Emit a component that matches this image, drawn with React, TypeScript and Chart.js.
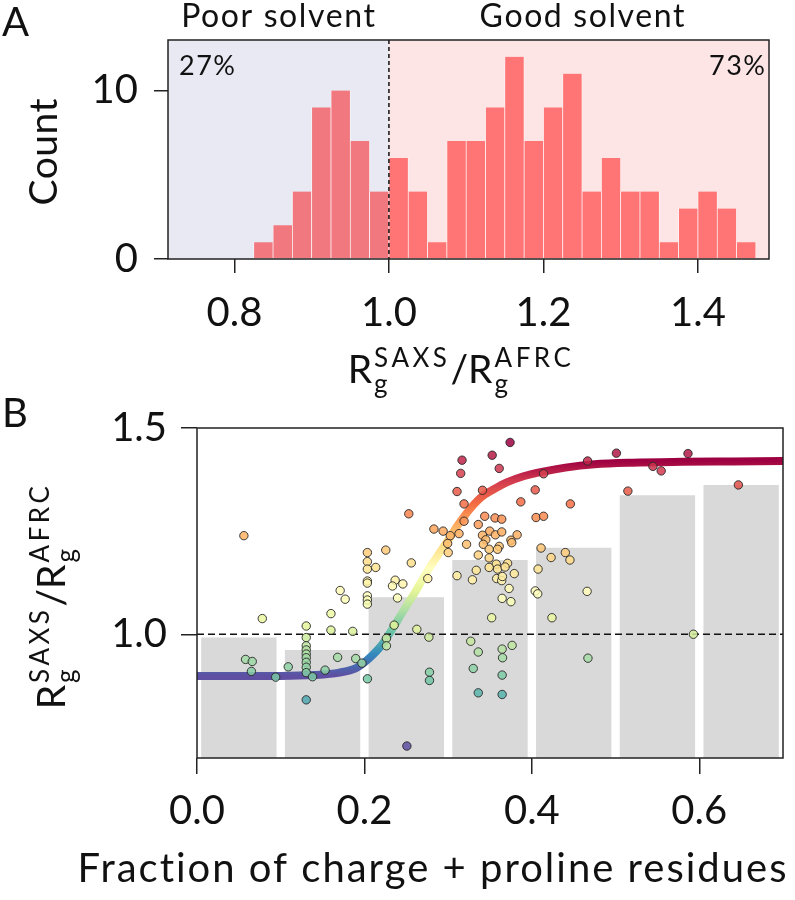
import React, { useEffect, useRef } from 'react';
import { Chart, registerables } from 'chart.js';

Chart.register(...registerables);

const FONT = 'Lato, "Open Sans", sans-serif';

// ---------- Panel A: histogram of Rg(SAXS)/Rg(AFRC) ----------
const histBinCenters = [
  0.8375, 0.8625, 0.8875, 0.9125, 0.9375, 0.9625, 0.9875,
  1.0125, 1.0375, 1.0625, 1.0875, 1.1125, 1.1375, 1.1625, 1.1875, 1.2125, 1.2375,
  1.2625, 1.2875, 1.3125, 1.3375, 1.3625, 1.3875, 1.4125, 1.4375, 1.4625,
];
const histCounts = [
  1, 2, 4, 9, 10, 7, 4,
  6, 4, 1, 7, 7, 9, 12, 7, 9, 11,
  4, 6, 4, 4, 1, 3, 4, 3, 1,
];
const histXTicks = [0.8, 1.0, 1.2, 1.4];
const histYTicks = [0, 10];
const solventBoundary = 1.0;
const poorLabel = 'Poor solvent';
const goodLabel = 'Good solvent';
const poorShare = '27%';
const goodShare = '73%';

// ---------- Panel B ----------
const binCenters = [0.05, 0.15, 0.25, 0.35, 0.45, 0.55, 0.65];
const binMeans = [0.992, 0.962, 1.09, 1.18, 1.21, 1.337, 1.362];

const fitX = [0, 0.05, 0.10, 0.14, 0.17, 0.19, 0.20, 0.21, 0.22, 0.23,
  0.24, 0.25, 0.26, 0.27, 0.28, 0.29, 0.30, 0.31, 0.32, 0.33,
  0.34, 0.355, 0.37, 0.39, 0.415, 0.44, 0.475, 0.52, 0.58, 0.64, 0.70];
const fitY = [0.899, 0.899, 0.899, 0.901, 0.907, 0.918, 0.932, 0.950, 0.972, 1.002,
  1.035, 1.068, 1.100, 1.135, 1.168, 1.198, 1.228, 1.260, 1.288, 1.313,
  1.333, 1.352, 1.368, 1.383, 1.395, 1.404, 1.412, 1.416, 1.418, 1.419, 1.420];

const pointX = [
  0.056, 0.078, 0.058, 0.066, 0.065, 0.094, 0.109,
  0.1305, 0.1305, 0.1305, 0.1305, 0.1305, 0.1305, 0.1305, 0.1305, 0.1305,
  0.138, 0.1305, 0.153, 0.160, 0.160, 0.168, 0.171, 0.177, 0.186, 0.1896, 0.197,
  0.2036, 0.253, 0.2255, 0.2035, 0.2035, 0.2035, 0.2135, 0.256, 0.2035, 0.2035,
  0.2367, 0.2335, 0.2459, 0.2757, 0.2035, 0.2035, 0.2035, 0.2395, 0.2355, 0.2626,
  0.277, 0.2263, 0.2263, 0.2777, 0.2777, 0.2507,
  0.374, 0.3166, 0.3526, 0.3150, 0.361, 0.3106, 0.341, 0.319, 0.3868, 0.319,
  0.3437, 0.356, 0.364, 0.283, 0.294, 0.3025, 0.313, 0.336, 0.3497, 0.3564,
  0.364, 0.341, 0.3824, 0.2994, 0.3001, 0.322, 0.345, 0.342, 0.375, 0.376,
  0.361, 0.359, 0.349, 0.336, 0.349, 0.3575, 0.371, 0.349, 0.359, 0.368,
  0.3336, 0.379, 0.3106, 0.329, 0.358, 0.364, 0.3648, 0.3728, 0.3645, 0.375,
  0.352, 0.327, 0.336, 0.3645, 0.365, 0.3764, 0.330, 0.3645, 0.336, 0.3645,
  0.414, 0.4666, 0.501, 0.5446, 0.5545, 0.5865, 0.6467, 0.5147, 0.404, 0.446, 0.405, 0.414,
  0.411, 0.423, 0.440, 0.4455, 0.4074, 0.404, 0.407, 0.466, 0.424, 0.593, 0.467,
];
const pointY = [
  1.239, 1.038, 0.939, 0.934, 0.910, 0.896, 0.921,
  1.020, 0.992, 0.972, 0.962, 0.952, 0.943, 0.932, 0.920, 0.907,
  0.897, 0.841, 0.913, 1.050, 1.010, 0.944, 1.106, 1.085, 1.007, 0.941, 0.930,
  0.892, 1.292, 1.204, 1.198, 1.176, 1.158, 1.162, 1.173, 1.129, 1.124,
  1.131, 1.117, 1.122, 1.135, 1.093, 1.083, 1.073, 1.088, 1.022, 1.012,
  0.993, 0.990, 0.972, 0.908, 0.888, 0.729,
  1.465, 1.422, 1.434, 1.390, 1.402, 1.346, 1.349, 1.316, 1.321, 1.274,
  1.286, 1.282, 1.279, 1.255, 1.250, 1.239, 1.244, 1.266, 1.250, 1.241,
  1.248, 1.240, 1.241, 1.220, 1.198, 1.218, 1.229, 1.218, 1.228, 1.222,
  1.213, 1.206, 1.206, 1.192, 1.185, 1.170, 1.172, 1.162, 1.158, 1.163,
  1.155, 1.147, 1.142, 1.132, 1.135, 1.130, 1.140, 1.111, 1.087, 1.079,
  1.040, 0.983, 0.957, 0.964, 0.943, 0.973, 0.917, 0.901, 0.858, 0.854,
  1.389, 1.420, 1.439, 1.407, 1.396, 1.438, 1.362, 1.347, 1.350, 1.316, 1.283, 1.286,
  1.209, 1.186, 1.198, 1.180, 1.158, 1.105, 1.098, 1.104, 1.040, 1.000, 0.942,
];
const bXTicks = [0, 0.2, 0.4, 0.6];
const bYTicks = [1.0, 1.5];
const referenceLevel = 1.0;
const bXTitle = 'Fraction of charge + proline residues';

// Spectral_r colormap
const SPECTRAL_R = ['#5e4fa2', '#3288bd', '#66c2a5', '#abdda4', '#e6f598', '#ffffbf',
  '#fee08b', '#fdae61', '#f46d43', '#d53e4f', '#9e0142'];

function hexToRgb(h: string) {
  const n = parseInt(h.slice(1), 16);
  return [(n >> 16) & 255, (n >> 8) & 255, n & 255];
}
function spectralR(t: number, alpha = 1) {
  const tt = Math.max(0, Math.min(1, t));
  const p = tt * 10;
  const i = Math.min(9, Math.floor(p));
  const f = p - i;
  const a = hexToRgb(SPECTRAL_R[i]);
  const b = hexToRgb(SPECTRAL_R[i + 1]);
  const c = a.map((v, k) => Math.round(v + (b[k] - v) * f));
  return `rgba(${c[0]},${c[1]},${c[2]},${alpha})`;
}

function spacedText(ctx: CanvasRenderingContext2D, text: string, x: number, y: number, font: string, align: CanvasTextAlign, spacing: number) {
  const c: any = ctx;
  ctx.save();
  ctx.font = font;
  c.letterSpacing = spacing + 'px';
  ctx.textAlign = 'left';
  const w = ctx.measureText(text).width - spacing;
  let x0 = x;
  if (align === 'center') x0 = x - w / 2;
  else if (align === 'right') x0 = x - w;
  ctx.fillText(text, x0, y);
  ctx.restore();
}

function drawRatioLabel(ctx: CanvasRenderingContext2D, cx: number, base: number, big: number, small: number, gap: number) {
  const c: any = ctx;
  ctx.save();
  ctx.textBaseline = 'alphabetic';
  ctx.textAlign = 'left';
  ctx.fillStyle = '#111';
  const fb = `${big}px ${FONT}`;
  const fs = `${small}px ${FONT}`;
  ctx.font = fb;
  const wR = ctx.measureText('R').width;
  const wSl = ctx.measureText('/').width;
  ctx.font = fs;
  c.letterSpacing = gap + 'px';
  const wSup1 = ctx.measureText('SAXS').width;
  const wSup2 = ctx.measureText('AFRC').width;
  c.letterSpacing = '0px';
  const wg = ctx.measureText('g').width;
  const b1 = Math.max(wSup1, wg);
  const b2 = Math.max(wSup2, wg);
  const total = wR + 2 + b1 + wSl + wR + 2 + b2;
  let x = cx - total / 2;
  const supDy = -big * 0.42;
  const subDy = big * 0.26;
  ctx.font = fb; ctx.fillText('R', x, base); x += wR + 2;
  ctx.font = fs; ctx.fillText('g', x, base + subDy);
  c.letterSpacing = gap + 'px'; ctx.fillText('SAXS', x, base + supDy); c.letterSpacing = '0px';
  x += b1;
  ctx.font = fb; ctx.fillText('/', x, base); x += wSl;
  ctx.fillText('R', x, base); x += wR + 2;
  ctx.font = fs; ctx.fillText('g', x, base + subDy);
  c.letterSpacing = gap + 'px'; ctx.fillText('AFRC', x, base + supDy); c.letterSpacing = '0px';
  ctx.restore();
}

function frame(chart: any) {
  const { ctx, chartArea: { left, right, top, bottom } } = chart;
  ctx.save();
  ctx.strokeStyle = '#222';
  ctx.lineWidth = 1.5;
  ctx.strokeRect(left, top, right - left, bottom - top);
  ctx.restore();
}

const panelAPlugin = {
  id: 'panelA',
  beforeDatasetsDraw(chart: any) {
    const { ctx, chartArea: { left, right, top, bottom }, scales: { x } } = chart;
    const xm = x.getPixelForValue(solventBoundary);
    ctx.save();
    ctx.fillStyle = '#e9e9f4';
    ctx.fillRect(left, top, xm - left, bottom - top);
    ctx.fillStyle = '#fde5e6';
    ctx.fillRect(xm, top, right - xm, bottom - top);
    ctx.restore();
  },
  afterDatasetsDraw(chart: any) {
    const { ctx, chartArea: { top, bottom }, scales: { x } } = chart;
    const xm = x.getPixelForValue(solventBoundary);
    ctx.save();
    ctx.strokeStyle = '#111';
    ctx.lineWidth = 1.5;
    ctx.setLineDash([4, 3]);
    ctx.beginPath();
    ctx.moveTo(xm, top);
    ctx.lineTo(xm, bottom);
    ctx.stroke();
    ctx.restore();
    frame(chart);
  },
  afterDraw(chart: any) {
    const { ctx } = chart;
    ctx.save();
    ctx.fillStyle = '#111';
    ctx.textBaseline = 'alphabetic';
    spacedText(ctx, 'A', 2, 36, `40px ${FONT}`, 'left', 0);
    spacedText(ctx, poorLabel, 278, 27, `32px ${FONT}`, 'center', 1.6);
    spacedText(ctx, goodLabel, 582, 27, `32px ${FONT}`, 'center', 1.6);
    spacedText(ctx, poorShare, 179, 75, `27px ${FONT}`, 'left', 1.5);
    spacedText(ctx, goodShare, 765, 75, `27px ${FONT}`, 'right', 1.5);
    ctx.save();
    ctx.translate(57, 152);
    ctx.rotate(-Math.PI / 2);
    spacedText(ctx, 'Count', 0, 0, `39px ${FONT}`, 'center', 0.5);
    ctx.restore();
    ctx.restore();
    drawRatioLabel(ctx, 461, 383, 39, 26, 3.5);
  },
};

const panelBPlugin = {
  id: 'panelB',
  afterDatasetsDraw(chart: any) {
    frame(chart);
  },
  afterDraw(chart: any) {
    const { ctx } = chart;
    ctx.save();
    ctx.fillStyle = '#111';
    ctx.textBaseline = 'alphabetic';
    spacedText(ctx, 'B', 2, 37, `40px ${FONT}`, 'left', 0);
    spacedText(ctx, bXTitle, 432, 492, `40px ${FONT}`, 'center', 2);
    ctx.translate(65, 206);
    ctx.rotate(-Math.PI / 2);
    drawRatioLabel(ctx, 0, 0, 39, 26, 3.5);
    ctx.restore();
  },
};

const tickFont = { family: FONT, size: 40 };
const gridOpts = (len: number) => ({
  display: true,
  drawOnChartArea: false,
  drawTicks: true,
  tickLength: len,
  color: '#222',
  lineWidth: 1.5,
  offset: false,
});

export default function App() {
  const refA = useRef<HTMLCanvasElement>(null);
  const refB = useRef<HTMLCanvasElement>(null);

  useEffect(() => {
    const chartA = new Chart(refA.current as HTMLCanvasElement, {
      type: 'bar',
      data: {
        datasets: [{
          data: histBinCenters.map((x, i) => ({ x, y: histCounts[i] })) as any,
          backgroundColor: histBinCenters.map((x) => (x < solventBoundary ? '#f2787f' : '#ff7575')),
          borderColor: 'rgba(255,255,255,0.85)',
          borderWidth: { left: 0.7, right: 0.7, top: 0, bottom: 0 } as any,
          barPercentage: 1,
          categoryPercentage: 1,
        }],
      },
      options: {
        responsive: false,
        animation: false,
        devicePixelRatio: 1,
        layout: { padding: { top: 40, right: 26, left: 0, bottom: 0 } },
        plugins: { legend: { display: false }, tooltip: { enabled: false } },
        scales: {
          x: {
            type: 'linear',
            min: 0.714,
            max: 1.492,
            offset: false,
            afterBuildTicks: (s: any) => { s.ticks = histXTicks.map((v) => ({ value: v })); },
            afterFit: (s: any) => { s.height = 141; },
            grid: gridOpts(14) as any,
            border: { display: false },
            ticks: { font: tickFont, color: '#111', padding: 16, maxRotation: 0, autoSkip: false,
              callback: (v: any) => Number(v).toFixed(1) },
          },
          y: {
            type: 'linear',
            min: 0,
            max: 13,
            afterBuildTicks: (s: any) => { s.ticks = histYTicks.map((v) => ({ value: v })); },
            afterFit: (s: any) => { s.width = 168; },
            grid: gridOpts(14) as any,
            border: { display: false },
            ticks: { font: tickFont, color: '#111', padding: 16, callback: (v: any) => String(v) },
          },
        },
      },
      plugins: [panelAPlugin],
    } as any);

    const yLo = Math.min(...fitY);
    const yHi = Math.max(...fitY);
    const pMin = Math.min(...pointY);
    const pMax = Math.max(...pointY);

    const chartB = new Chart(refB.current as HTMLCanvasElement, {
      type: 'bar',
      data: {
        datasets: [
          {
            type: 'bar',
            data: binCenters.map((x, i) => ({ x, y: binMeans[i] })) as any,
            base: 0.7,
            backgroundColor: '#d9d9d9',
            barPercentage: 0.9,
            categoryPercentage: 1,
            order: 4,
          },
          {
            type: 'line',
            data: fitX.map((x, i) => ({ x, y: fitY[i] })) as any,
            borderColor: (c: any) => {
              const ch = c.chart;
              if (!ch.chartArea) return SPECTRAL_R[0];
              const ys = ch.scales.y;
              const g = ch.ctx.createLinearGradient(0, ys.getPixelForValue(yLo), 0, ys.getPixelForValue(yHi));
              SPECTRAL_R.forEach((col, i) => g.addColorStop(i / 10, col));
              return g;
            },
            borderWidth: 8,
            pointRadius: 0,
            cubicInterpolationMode: 'monotone',
            fill: false,
            clip: 0,
            order: 3,
          },
          {
            type: 'line',
            data: [{ x: 0, y: referenceLevel }, { x: 0.7, y: referenceLevel }] as any,
            borderColor: '#111',
            borderWidth: 1.5,
            borderDash: [7, 4],
            pointRadius: 0,
            fill: false,
            order: 2,
          },
          {
            type: 'scatter',
            data: pointX.map((x, i) => ({ x, y: pointY[i] })) as any,
            pointBackgroundColor: pointY.map((v) => spectralR((v - pMin) / (pMax - pMin), 0.85)),
            pointBorderColor: 'rgba(40,40,40,0.9)',
            pointBorderWidth: 1,
            pointRadius: 4.2,
            showLine: false,
            order: 1,
          },
        ],
      },
      options: {
        responsive: false,
        animation: false,
        devicePixelRatio: 1,
        layout: { padding: { top: 38, right: 12, left: 0, bottom: 0 } },
        plugins: { legend: { display: false }, tooltip: { enabled: false } },
        scales: {
          x: {
            type: 'linear',
            min: 0,
            max: 0.7,
            offset: false,
            afterBuildTicks: (s: any) => { s.ticks = bXTicks.map((v) => ({ value: v })); },
            afterFit: (s: any) => { s.height = 142; },
            grid: gridOpts(16) as any,
            border: { display: false },
            ticks: { font: tickFont, color: '#111', padding: 13, maxRotation: 0, autoSkip: false,
              callback: (v: any) => Number(v).toFixed(1) },
          },
          y: {
            type: 'linear',
            min: 0.7,
            max: 1.5,
            afterBuildTicks: (s: any) => { s.ticks = bYTicks.map((v) => ({ value: v })); },
            afterFit: (s: any) => { s.width = 197; },
            grid: gridOpts(16) as any,
            border: { display: false },
            ticks: { font: tickFont, color: '#111', padding: 14, callback: (v: any) => Number(v).toFixed(1) },
          },
        },
      },
      plugins: [panelBPlugin],
    } as any);

    return () => {
      chartA.destroy();
      chartB.destroy();
    };
  }, []);

  return (
    <div style={{ position: 'absolute', left: 0, top: 0, width: 795, height: 900, background: '#fff' }}>
      <canvas ref={refA} width={795} height={400}
        style={{ position: 'absolute', left: 0, top: 0, width: 795, height: 400 }} />
      <canvas ref={refB} width={795} height={510}
        style={{ position: 'absolute', left: 0, top: 390, width: 795, height: 510 }} />
    </div>
  );
}
